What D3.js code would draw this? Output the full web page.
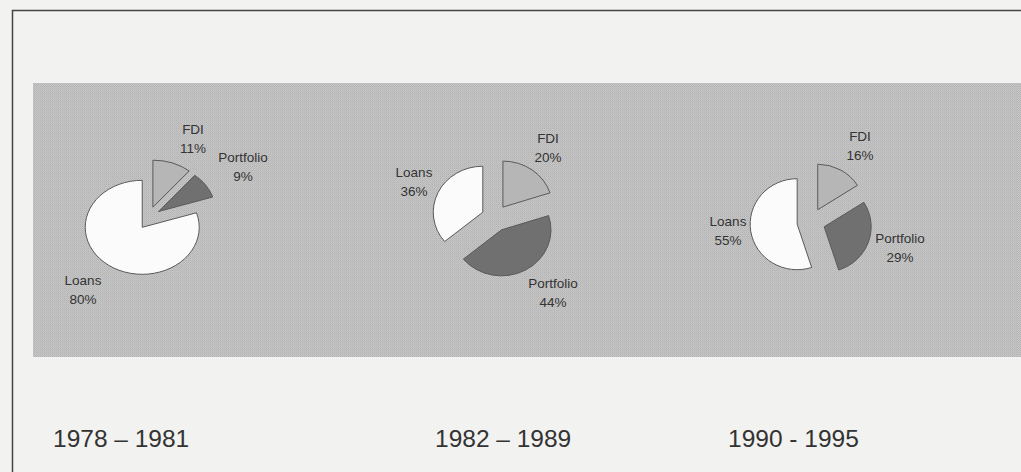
<!DOCTYPE html>
<html>
<head>
<meta charset="utf-8">
<script src="https://cdn.jsdelivr.net/npm/d3@7"></script>
<style>
  body { margin: 0; background: #f2f2f0; }
  text { font-family: "Liberation Sans", Arial, sans-serif; fill: #333; }
</style>
</head>
<body>
<script>
// chart data
var categories = ["FDI", "Portfolio", "Loans"];
var periods = ["1978 \u2013 1981", "1982 \u2013 1989", "1990 - 1995"];
var fdi = [11, 20, 16];
var portfolio = [9, 44, 29];
var loans = [80, 36, 55];

// layout of each pie (centre, radii, explode distance)
var pieLayout = [
    {cx: 149, cy: 218, rx: 57, ry: 47, e: 11.5},
    {cx: 495, cy: 218, rx: 49.5, ry: 46, e: 13.5},
    {cx: 811, cy: 222, rx: 47, ry: 45.5, e: 14}
];
// label anchor points (baseline of first line) per pie, per category
var labelPos = [
    [[193, 134], [243, 162], [83, 285]],
    [[548, 143], [553, 288], [414, 177]],
    [[860, 141], [900, 243], [728, 226]]
];
var yearX = [53, 435, 728];

var fills = {FDI: "#b6b6b6", Portfolio: "#707070", Loans: "#fbfbfb"};

var width = 1021, height = 472;

var svg = d3.select("body")
    .append("svg")
    .attr("width", width)
    .attr("height", height);

// dithered grey used by the scanned background band
var defs = svg.append("defs");
var pat = defs.append("pattern")
    .attr("id", "dither")
    .attr("width", 2).attr("height", 2)
    .attr("patternUnits", "userSpaceOnUse");
pat.append("rect").attr("width", 2).attr("height", 2).attr("fill", "#c6c6c6");
pat.append("rect").attr("width", 1).attr("height", 1).attr("fill", "#b2b2b2");
pat.append("rect").attr("x", 1).attr("y", 1).attr("width", 1).attr("height", 1).attr("fill", "#bababa");

//frame
svg.append("path")
    .attr("d", "M12.5," + height + "V10.5H" + width)
    .attr("fill", "none")
    .attr("stroke", "#444")
    .attr("stroke-width", 1.5);

//grey band behind the pies
svg.append("rect")
    .attr("x", 33).attr("y", 83)
    .attr("width", width - 33).attr("height", 274)
    .attr("fill", "url(#dither)");

var pie = d3.pie().sort(null).value(function(d){ return d.v; });
var arc = d3.arc().innerRadius(0).outerRadius(1);

periods.forEach(function(p, i){
    var rows = [
        {k: "FDI", v: fdi[i]},
        {k: "Portfolio", v: portfolio[i]},
        {k: "Loans", v: loans[i]}
    ];
    var L = pieLayout[i];
    var g = svg.append("g").attr("class", "pie");

    g.selectAll(".slice")
        .data(pie(rows))
        .enter()
        .append("g")
        .attr("class", "slice")
        .attr("transform", function(d){
            var a = (d.startAngle + d.endAngle) / 2;
            var dx = L.cx + L.e * Math.sin(a),
                dy = L.cy - L.e * Math.cos(a);
            return "translate(" + dx + "," + dy + ") scale(" + L.rx + "," + L.ry + ")";
        })
        .append("path")
        .attr("d", arc)
        .attr("fill", function(d){ return fills[d.data.k]; })
        .attr("stroke", "#5a5a5a")
        .attr("stroke-width", 1)
        .attr("vector-effect", "non-scaling-stroke");

    //labels
    rows.forEach(function(d, j){
        var pos = labelPos[i][j];
        var t = g.append("text")
            .attr("x", pos[0]).attr("y", pos[1])
            .attr("text-anchor", "middle")
            .style("font-size", "13.5px");
        t.append("tspan").attr("x", pos[0]).text(d.k);
        t.append("tspan").attr("x", pos[0]).attr("dy", 18.5).text(d.v + "%");
    });

    //period caption
    svg.append("text")
        .attr("x", yearX[i]).attr("y", 447)
        .style("font-size", "24.5px")
        .text(p);
});
</script>
</body>
</html>
